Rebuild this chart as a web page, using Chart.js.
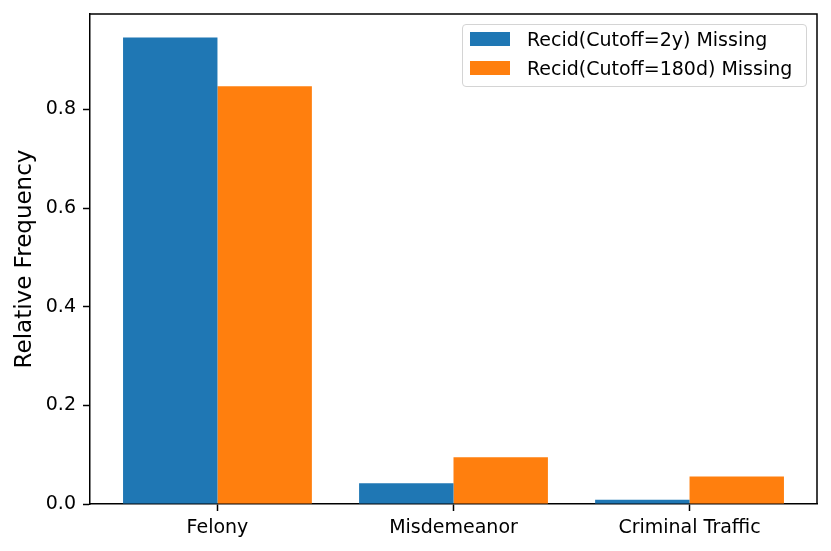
<!DOCTYPE html>
<html>
<head>
<meta charset="utf-8">
<title>Missing recidivism by charge degree</title>
<script src="https://cdn.jsdelivr.net/npm/chart.js@4.4.1/dist/chart.umd.min.js"></script>
<style>
    body { margin: 0; background: #fff; }
    #wrap { position: relative; width: 831px; height: 551px; }
    #legend {
        position: absolute; left: 462px; top: 24px; width: 343px; height: 61px;
        border: 1px solid #d4d4d4; border-radius: 4px; background: rgba(255,255,255,0.8);
        font-family: "DejaVu Sans", sans-serif; font-size: 19px; color: #000;
    }
    #legend .item { position: absolute; left: 7px; height: 22px; display: flex; align-items: center; }
    #legend .swatch { width: 40px; height: 14px; margin-right: 17px; }
</style>
</head>
<body>
<div id="wrap">
    <canvas id="chart"></canvas>
    <div id="legend"></div>
</div>
<script>
// Chart data
const categories = ['Felony', 'Misdemeanor', 'Criminal Traffic'];
const seriesNames = ['Recid(Cutoff=2y) Missing', 'Recid(Cutoff=180d) Missing'];
const missing2y = [0.946, 0.042, 0.0085];
const missing180d = [0.847, 0.095, 0.056];
const yTicks = [0.0, 0.2, 0.4, 0.6, 0.8];

const colors = ['#1f77b4', '#ff7f0e'];
const FONT = '"DejaVu Sans", sans-serif';

// top + right spines (matplotlib box)
const framePlugin = {
    id: 'frame',
    afterDraw(chart) {
        const { ctx, chartArea: a } = chart;
        ctx.save();
        ctx.strokeStyle = '#000';
        ctx.lineWidth = 1.5;
        ctx.beginPath();
        ctx.moveTo(a.left, a.top);
        ctx.lineTo(a.right, a.top);
        ctx.lineTo(a.right, a.bottom);
        ctx.stroke();
        ctx.restore();
    }
};

// HTML legend built from the datasets
const htmlLegend = {
    id: 'htmlLegend',
    afterUpdate(chart) {
        const box = document.getElementById('legend');
        box.innerHTML = '';
        chart.data.datasets.forEach((ds, i) => {
            const item = document.createElement('div');
            item.className = 'item';
            item.style.top = (3 + i * 29) + 'px';
            const sw = document.createElement('span');
            sw.className = 'swatch';
            sw.style.background = ds.backgroundColor;
            const txt = document.createElement('span');
            txt.textContent = ds.label;
            item.appendChild(sw);
            item.appendChild(txt);
            box.appendChild(item);
        });
    }
};

const toPoints = (vals) => vals.map((v, i) => ({ x: i, y: v }));

new Chart(document.getElementById('chart'), {
    type: 'bar',
    data: {
        datasets: [
            { label: seriesNames[0], data: toPoints(missing2y), backgroundColor: colors[0] },
            { label: seriesNames[1], data: toPoints(missing180d), backgroundColor: colors[1] }
        ]
    },
    options: {
        responsive: true,
        maintainAspectRatio: false,
        animation: false,
        categoryPercentage: 0.8,
        barPercentage: 1.0,
        layout: { padding: { left: 0, right: 14, top: 14, bottom: 0 } },
        plugins: {
            legend: { display: false },
            tooltip: { enabled: false }
        },
        scales: {
            x: {
                type: 'linear',
                offset: false,
                min: -0.54,
                max: 2.54,
                afterBuildTicks: (scale) => {
                    scale.ticks = categories.map((c, i) => ({ value: i }));
                },
                afterFit: (scale) => {
                    scale.height = 47;
                    scale.paddingLeft = 0;
                    scale.paddingRight = 0;
                },
                ticks: {
                    color: '#000',
                    font: { family: FONT, size: 19 },
                    padding: 6,
                    maxRotation: 0,
                    callback: (v) => categories[v]
                },
                grid: {
                    offset: false,
                    drawOnChartArea: false,
                    drawTicks: true,
                    tickLength: 7,
                    tickColor: '#000',
                    tickWidth: 1.5
                },
                border: { color: '#000', width: 1.5 }
            },
            y: {
                min: 0,
                max: 0.9934,
                afterBuildTicks: (scale) => {
                    scale.ticks = yTicks.map(v => ({ value: v }));
                },
                afterFit: (scale) => {
                    scale.width = 90;
                    scale.paddingTop = 0;
                    scale.paddingBottom = 0;
                },
                ticks: {
                    color: '#000',
                    font: { family: FONT, size: 19 },
                    padding: 7,
                    callback: (v) => v.toFixed(1)
                },
                grid: {
                    drawOnChartArea: false,
                    drawTicks: true,
                    tickLength: 7,
                    tickColor: '#000',
                    tickWidth: 1.5
                },
                border: { color: '#000', width: 1.5 },
                title: {
                    display: true,
                    text: 'Relative Frequency',
                    color: '#000',
                    font: { family: FONT, size: 23 },
                    padding: { top: 11, bottom: 0 }
                }
            }
        }
    },
    plugins: [framePlugin, htmlLegend]
});
</script>
</body>
</html>
